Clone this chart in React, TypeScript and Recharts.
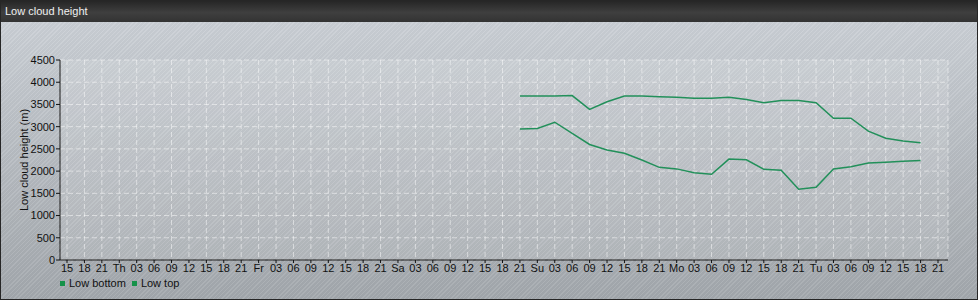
import React from "react";
import { LineChart, Line, XAxis, YAxis, CartesianGrid } from "recharts";

// x axis: every 3 hours, day name at midnight
const tickLabels = [
  "15", "18", "21",
  "Th", "03", "06", "09", "12", "15", "18", "21",
  "Fr", "03", "06", "09", "12", "15", "18", "21",
  "Sa", "03", "06", "09", "12", "15", "18", "21",
  "Su", "03", "06", "09", "12", "15", "18", "21",
  "Mo", "03", "06", "09", "12", "15", "18", "21",
  "Tu", "03", "06", "09", "12", "15", "18", "21",
];

// series start at Saturday 21h
const firstIndex = 26;

const lowBottom = [
  2950, 2960, 3100, 2850, 2600, 2475, 2400, 2250, 2085, 2050, 1965, 1930,
  2270, 2255, 2040, 2020, 1590, 1635, 2050, 2100, 2180, 2200, 2220, 2240,
];

const lowTop = [
  3690, 3690, 3690, 3700, 3390, 3560, 3690, 3690, 3675, 3660, 3640, 3640,
  3660, 3610, 3540, 3590, 3590, 3540, 3190, 3190, 2900, 2740, 2680, 2640,
];

const yTicks = [0, 500, 1000, 1500, 2000, 2500, 3000, 3500, 4000, 4500];

const lineColor = "#22905a";
const legendColor = "#16924a";

const data = tickLabels.map((label, i) => {
  const k = i - firstIndex;
  const inRange = k >= 0 && k < lowBottom.length;
  return {
    label,
    bottom: inRange ? lowBottom[k] : null,
    top: inRange ? lowTop[k] : null,
  };
});

const font = '"Liberation Sans", Arial, sans-serif';

export default function App() {
  return (
    <div
      style={{
        position: "fixed",
        left: 0,
        top: 0,
        width: 978,
        height: 300,
        boxSizing: "border-box",
        border: "1px solid #262626",
        fontFamily: font,
        background:
          "repeating-linear-gradient(135deg, rgba(255,255,255,0.09) 0px, rgba(255,255,255,0.09) 1px, rgba(0,0,0,0.02) 1px, rgba(0,0,0,0.02) 3px), linear-gradient(#cdd2d8, #a2a7ac)",
        overflow: "hidden",
      }}
    >
      <div
        style={{
          position: "absolute",
          left: 0,
          top: 0,
          right: 0,
          height: 21,
          background: "linear-gradient(#262626, #3f3f3f 55%, #333333)",
          color: "#f0f0f0",
          fontSize: 11,
          lineHeight: "21px",
          paddingLeft: 4,
        }}
      >
        Low cloud height
      </div>
      <div style={{ position: "absolute", left: -1, top: -1 }}>
        <LineChart
          width={978}
          height={300}
          data={data}
          margin={{ top: 60, right: 30, left: 0, bottom: 20 }}
        >
          <CartesianGrid
            stroke="rgba(255,255,255,0.5)"
            strokeDasharray="5 3"
            fill="rgba(255,255,255,0.12)"
          />
          <XAxis
            dataKey="label"
            interval={0}
            padding={{ left: 7, right: 10 }}
            height={20}
            tickSize={3}
            tickMargin={1}
            stroke="#111"
            tick={{ fill: "#111", fontSize: 11 }}
          />
          <YAxis
            width={60}
            domain={[0, 4500]}
            ticks={yTicks}
            interval={0}
            tickSize={4}
            tickMargin={1}
            stroke="#111"
            tick={{ fill: "#111", fontSize: 11 }}
            label={{
              value: "Low cloud height (m)",
              angle: -90,
              position: "center",
              dx: -6,
              fill: "#111",
              fontSize: 11,
            }}
          />
          <Line
            type="linear"
            dataKey="bottom"
            name="Low bottom"
            stroke={lineColor}
            strokeWidth={1.5}
            dot={false}
            isAnimationActive={false}
          />
          <Line
            type="linear"
            dataKey="top"
            name="Low top"
            stroke={lineColor}
            strokeWidth={1.5}
            dot={false}
            isAnimationActive={false}
          />
        </LineChart>
      </div>
      <div
        style={{
          position: "absolute",
          left: 59,
          top: 276,
          display: "flex",
          alignItems: "center",
          fontSize: 11,
          color: "#111",
        }}
      >
        <span style={{ width: 5, height: 5, background: legendColor, display: "inline-block", marginRight: 4 }} />
        <span style={{ marginRight: 6 }}>Low bottom</span>
        <span style={{ width: 5, height: 5, background: legendColor, display: "inline-block", marginRight: 4 }} />
        <span>Low top</span>
      </div>
    </div>
  );
}
